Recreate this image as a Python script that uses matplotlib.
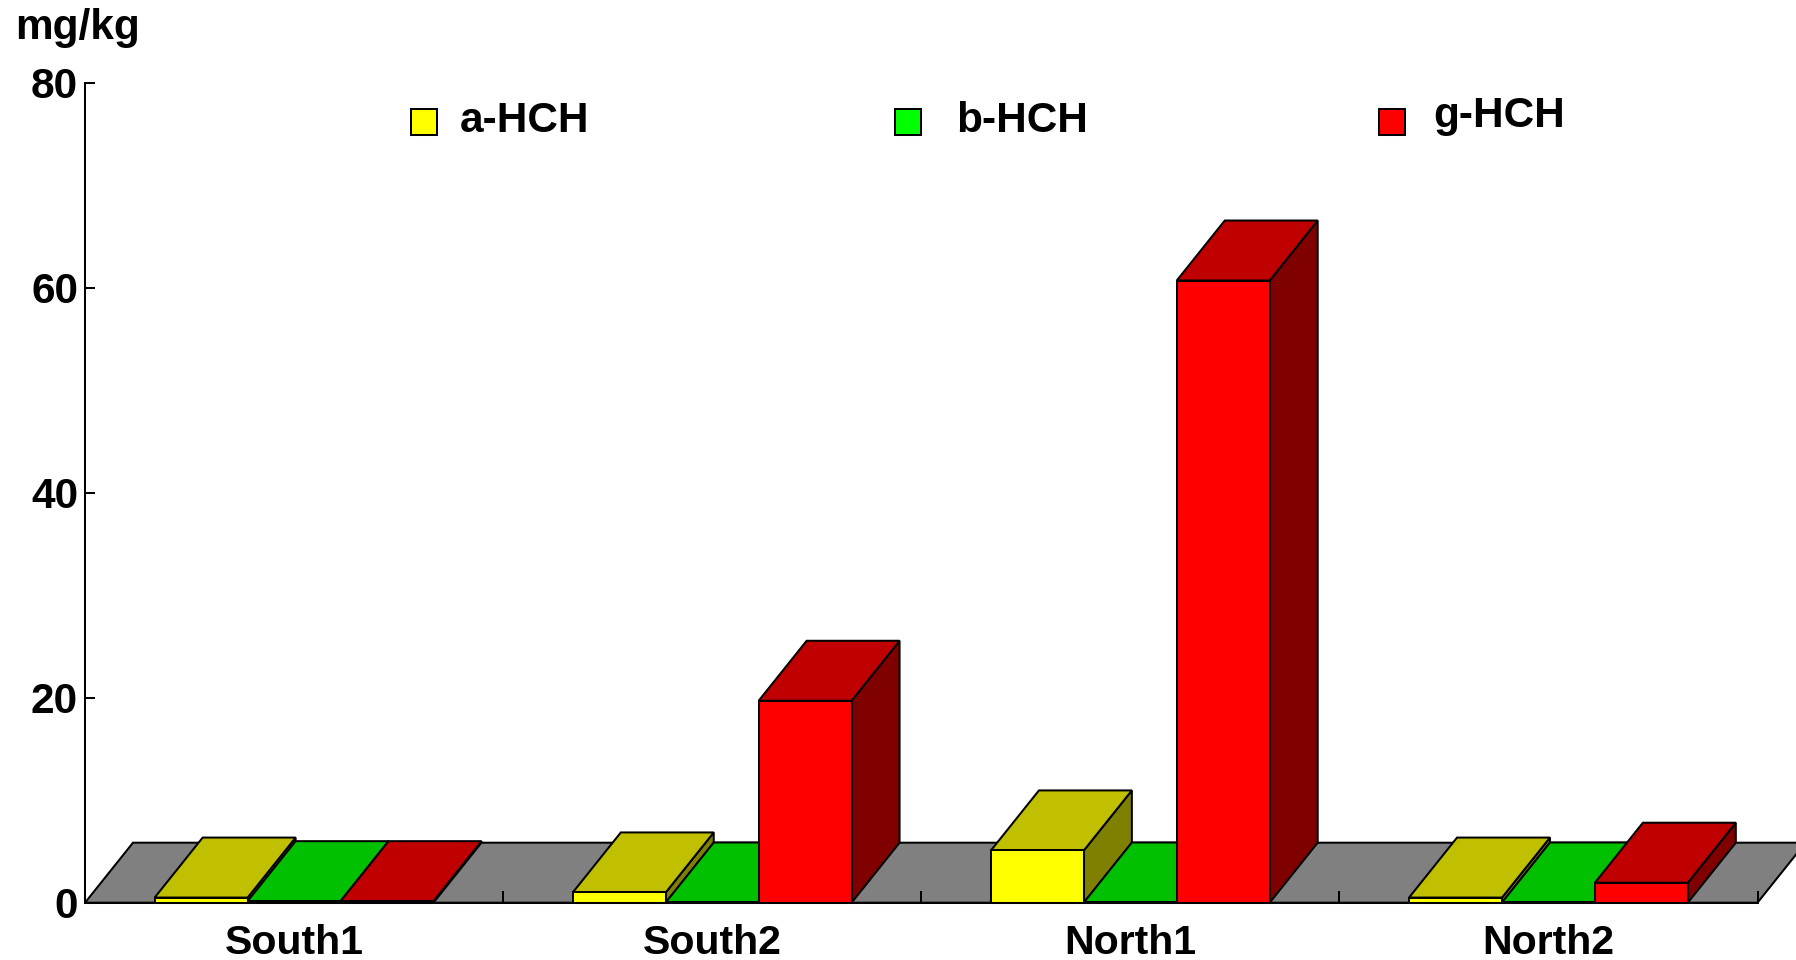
import matplotlib
matplotlib.use('Agg')
import matplotlib.pyplot as plt
from matplotlib.patches import Polygon, Rectangle

plt.rcParams['font.family'] = ['Liberation Sans', 'DejaVu Sans']
plt.rcParams['font.weight'] = 'bold'

# values
sites = ['South1', 'South2', 'North1', 'North2']
a_hch = [0.5, 1.0, 5.1, 0.5]
b_hch = [0.15, 0.02, 0.02, 0.02]
g_hch = [0.15, 19.7, 60.7, 1.95]
series_names = ['a-HCH', 'b-HCH', 'g-HCH']
y_ticks = [0, 20, 40, 60, 80]

# front, top, side colours of each series
colors = [('#FFFF00', '#C0C000', '#808000'),
          ('#00FF00', '#00C000', '#008000'),
          ('#FF0000', '#C00000', '#800000')]

W, H = 1796, 960
LEFT, RIGHT, TOP, BASE = 85, 1757.5, 82.7, 902.7
LW = 1.45
FS = 30.5

fig = plt.figure(figsize=(W / 100, H / 100), dpi=100, facecolor='white')
ax = fig.add_axes([LEFT / W, 1 - BASE / H, (RIGHT - LEFT) / W, (BASE - TOP) / H])
ax.set_xlim(-0.5, len(sites) - 0.5)
ax.set_ylim(0, 80)
ax.set_axisbelow(False)

# depth of the fake 3d in data units (48 px right, 60 px up)
dx = 48 * len(sites) / (RIGHT - LEFT)
dy = 60 * 80 / (BASE - TOP)
bar_w = 2 / 9


def poly(points, color, z):
    ax.add_patch(Polygon(points, closed=True, facecolor=color, edgecolor='black',
                         linewidth=LW, joinstyle='miter', clip_on=False, zorder=z))


# grey floor
x0, x1 = ax.get_xlim()
poly([(x0, 0), (x1, 0), (x1 + dx, dy), (x0 + dx, dy)], '#808080', 1)

z = 1.01
for i in range(len(sites)):
    for j, vals in enumerate([a_hch, b_hch, g_hch]):
        v = vals[i]
        left = i + (j - 1.5) * bar_w
        right = left + bar_w
        front, top, side = colors[j]
        poly([(right, 0), (right + dx, dy), (right + dx, v + dy), (right, v)], side, z)
        poly([(left, v), (right, v), (right + dx, v + dy), (left + dx, v + dy)], top, z + 0.001)
        ax.bar(left, v, width=bar_w, align='edge', color=front, edgecolor='black',
               linewidth=LW, zorder=z + 0.002, clip_on=False)
        z += 0.01

for s in ['top', 'right']:
    ax.spines[s].set_visible(False)
for s in ['left', 'bottom']:
    ax.spines[s].set_linewidth(LW)

ax.set_yticks(y_ticks)
ax.set_yticklabels([str(t) for t in y_ticks], fontsize=FS, fontweight='bold')
ax.tick_params(axis='y', direction='in', length=7.5, width=LW, pad=5)

ax.set_xticks([k - 0.5 for k in range(len(sites) + 1)])
ax.set_xticklabels([])
ax.tick_params(axis='x', which='major', direction='in', length=8.6, width=LW)
ax.set_xticks(range(len(sites)), minor=True)
ax.set_xticklabels(sites, minor=True, fontsize=29.5, fontweight='bold')
ax.tick_params(axis='x', which='minor', length=0, pad=15)

# hand placed legend and unit label, in pixels from the top left
legend_boxes = [411, 894.5, 1379]
legend_text = [(460, 132.5), (956, 132.5), (1433, 127)]
for name, bx, (tx, ty), c in zip(series_names, legend_boxes, legend_text, colors):
    fig.add_artist(Rectangle((bx / W, 1 - 135 / H), 26 / W, 26 / H, transform=fig.transFigure,
                             facecolor=c[0], edgecolor='black', linewidth=LW))
    fig.text(tx / W, 1 - ty / H, name, fontsize=FS, fontweight='bold', va='baseline')

fig.text(15 / W, 1 - 38.5 / H, 'mg/kg', fontsize=FS, fontweight='bold', va='baseline')

fig.savefig('out.png', dpi=100, facecolor='white')
